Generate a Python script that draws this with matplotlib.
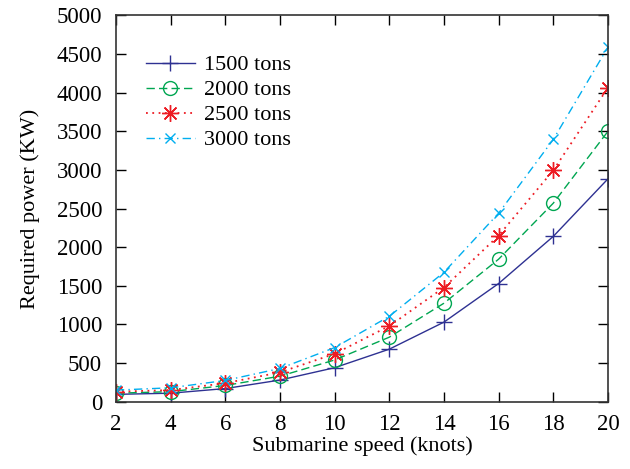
import matplotlib
matplotlib.use('Agg')
import matplotlib.pyplot as plt

plt.rcParams['font.family'] = ['Liberation Serif', 'DejaVu Serif']

speed = [2, 4, 6, 8, 10, 12, 14, 16, 18, 20]
p1500 = [95, 110, 170, 280, 440, 680, 1030, 1530, 2140, 2885]
p2000 = [110, 130, 210, 330, 540, 835, 1275, 1845, 2570, 3500]
p2500 = [130, 150, 240, 380, 620, 980, 1478, 2150, 2995, 4065]
p3000 = [150, 180, 275, 430, 700, 1105, 1675, 2440, 3395, 4590]

fig = plt.figure(figsize=(6.3, 4.69), dpi=100)
ax = fig.add_axes([0.184, 0.1435, 0.781, 0.8235])

ax.plot(speed, p1500, '-', marker='+', color='#2E3192', lw=1, ms=12, mew=1, label='1500 tons')
ax.plot(speed, p2000, color='#00A651', lw=1, ls=(0, (6, 3)), marker='o', ms=10, mew=1, mfc='none',
        label='2000 tons')
ax.plot(speed, p2500, color='#ED1C24', lw=1.3, ls=(0, (1, 2.5)), marker=(8, 2, 0), ms=12, mew=1,
        label='2500 tons')
ax.plot(speed, p3000, color='#00AEEF', lw=1, ls=(0, (6, 3, 1, 3)), marker='x', ms=7, mew=1,
        label='3000 tons')

ax.set_xlim(2, 20)
ax.set_ylim(0, 5000)
ax.set_xticks(speed)
ax.set_yticks(range(0, 5001, 500))
ax.tick_params(direction='in', top=True, right=True, labelsize=16.5, length=7, width=1)
ax.tick_params(axis='x', pad=9)
ax.tick_params(axis='y', pad=10)
ax.set_xlabel('Submarine speed (knots)', fontsize=16, labelpad=1)
ax.set_ylabel('Required power (KW)', fontsize=16, labelpad=12)
for s in ax.spines.values():
    s.set_linewidth(1.2)
    s.set_color('#333333')

ax.legend(loc='upper left', bbox_to_anchor=(0.02, 0.95), frameon=False, fontsize=16,
          handlelength=2.2, labelspacing=0.2, handletextpad=0.4)

fig.savefig('out.png', dpi=100)
